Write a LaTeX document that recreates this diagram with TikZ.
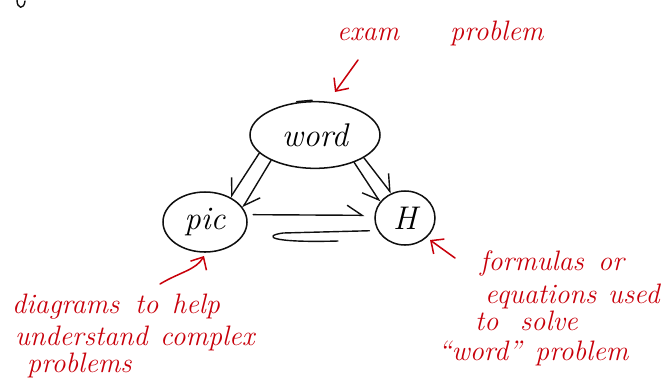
\documentclass[tikz,border=0pt]{standalone}
\usetikzlibrary{shapes.geometric,arrows.meta}
\definecolor{ink}{RGB}{15,15,15}
\definecolor{pen}{RGB}{200,0,10}
\begin{document}
\begin{tikzpicture}[x=0.03cm,y=-0.03cm, line cap=round, line join=round,
  bubble/.style={draw=ink, line width=1.3pt, ellipse, inner sep=0pt,
                 font=\fontsize{28}{32}\selectfont\itshape},
  conn/.style={draw=ink, line width=1.2pt},
  barbL/.style={-{Straight Barb[harpoon,length=0.45cm,width=0.6cm]}},
  barbR/.style={-{Straight Barb[harpoon,swap,length=0.45cm,width=0.6cm]}},
  note/.style={text=pen, font=\fontsize{24}{28}\selectfont\itshape,
               anchor=base west, inner sep=0pt},
  redpointer/.style={draw=pen, line width=1.3pt,
               -{Straight Barb[length=0.3cm,width=0.55cm]}}]

\useasboundingbox (0,0) rectangle (667,382);

% stray stroke at the top-left corner
\draw[ink, line width=1.2pt] (17,0) .. controls (17,9) and (24,10) .. (25,1);

% the three bubbles
\node[bubble, minimum width=3.9cm, minimum height=2.0cm] (word) at (315,135) {word};
\node[bubble, minimum width=2.52cm, minimum height=1.8cm] (pic) at (205,222) {pic};
\node[bubble, minimum width=1.8cm, minimum height=1.62cm] (H) at (405,218) {H};

% little hook on top of the word bubble
\draw[conn] ([xshift=-0.55cm,yshift=-0.02cm]word.north) .. controls ++(0.15,0.12) and ++(-0.15,0.05) .. ([xshift=-0.1cm,yshift=0.02cm]word.north) -- ++(0.5,0);

% word -> pic (double stroke)
\draw[conn, barbR] (word.198) -- (pic.44);
\draw[conn, barbL] (word.210) -- (pic.21);

% word -> H (double stroke)
\draw[conn, barbR] (word.-35) -- (H.147);
\draw[conn, barbL] (word.-25) -- (H.119);

% pic -> H
\draw[conn, barbL] ([xshift=0.2cm]pic.10) -- ([xshift=-0.3cm]H.175);

% H -> pic, with a curled return stroke
\draw[conn] ([xshift=-0.25cm]H.205) -- (283,233) .. controls (262,236) and (270,243) .. (338,241);

% annotation: exam problem
\node[note] (exam) at (337,40) {exam};
\node[note] (examb) at (450,40) {problem};
\coordinate (examtail) at (358,60);
\coordinate (examtip) at (335,92);
\draw[redpointer] (examtail) -- (examtip);

% annotation: diagrams to help ...
\node[note] (d1) at (12,313) {diagrams};
\node[note] (d2) at (135,313) {to};
\node[note] (d3) at (172,313) {help};
\node[note] (d4) at (15,345) {understand};
\node[note] (d5) at (160,345) {complex};
\node[note] (d6) at (27,372) {problems};
\coordinate (helptail) at (160,284);
\coordinate (helptip) at (204,256);
\draw[redpointer] (helptail) .. controls (180,272) and (196,270) .. (helptip);

% annotation: formulas or equations ...
\node[note] (f1) at (480,270) {formulas};
\node[note] (f2) at (598,270) {or};
\node[note] (f3) at (485,303) {equations};
\node[note] (f4) at (608,303) {used};
\node[note] (f5) at (475,330) {to};
\node[note] (f6) at (520,330) {solve};
\node[note] (f7) at (438,360) {``word''};
\node[note] (f8) at (535,360) {problem};
\coordinate (htail) at (455,258);
\coordinate (htip) at (430,240);
\draw[redpointer] (htail) -- (htip);
\end{tikzpicture}
\end{document}
